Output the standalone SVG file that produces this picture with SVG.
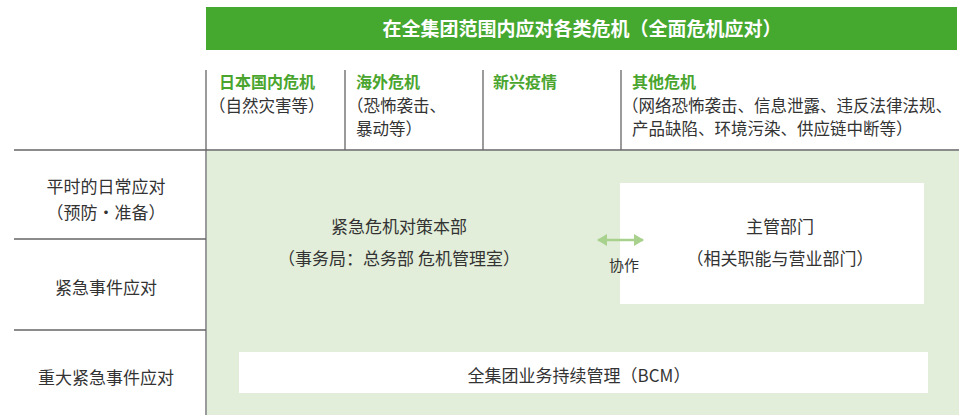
<svg xmlns="http://www.w3.org/2000/svg" width="959" height="415" viewBox="0 0 959 415">
<style>
text{font-family:"Noto Sans CJK SC","Noto Sans",sans-serif;font-size:17px;fill:#333}
.hd{fill:#fff;font-weight:bold;font-size:19px}
.ch{fill:#4aa52e;font-weight:bold;font-size:16px}
.ct{font-size:16.5px}
.ln{stroke:#666;stroke-width:1.3;fill:none}
.m{text-anchor:middle}
</style>
<defs>
<marker id="ah" viewBox="0 0 10 12" refX="9" refY="6" markerWidth="4" markerHeight="4.8" orient="auto-start-reverse" markerUnits="strokeWidth">
<path d="M0,0L10,6L0,12z" fill="#a9d18e"/>
</marker>
</defs>
<rect width="959" height="415" fill="#fff"/>
<g id="header">
<rect x="206" y="7" width="751" height="43" fill="#45a82f"/>
<text class="hd m" x="582" y="36">在全集团范围内应对各类危机（全面危机应对）</text>
</g>
<g id="zone">
<rect x="207" y="151" width="752" height="264" fill="#e2eed9"/>
</g>
<g id="grid">
<path class="ln" d="M206,70V415M345,70V150M483,70V150M621,70V150M14,150H959M14,239H206M14,330H206"/>
</g>
<g id="col1">
<text class="ch" x="219" y="88">日本国内危机</text>
<text class="ct" x="209" y="112">（自然灾害等）</text>
</g>
<g id="col2">
<text class="ch" x="356" y="88">海外危机</text>
<text class="ct" x="347" y="112">（恐怖袭击、</text>
<text class="ct" x="356" y="135">暴动等）</text>
</g>
<g id="col3">
<text class="ch" x="493" y="88">新兴疫情</text>
</g>
<g id="col4">
<text class="ch" x="632" y="88">其他危机</text>
<text class="ct" x="622" y="112">（网络恐怖袭击、信息泄露、违反法律法规、</text>
<text class="ct" x="632" y="135">产品缺陷、环境污染、供应链中断等）</text>
</g>
<g id="row1">
<text class="m" x="106" y="192.5">平时的日常应对</text>
<text class="m" x="106" y="218.5">（预防・准备）</text>
</g>
<g id="row2">
<text class="m" x="106" y="293.5">紧急事件应对</text>
</g>
<g id="row3">
<text class="m" x="106" y="383.5">重大紧急事件应对</text>
</g>
<g id="hq">
<text class="m" x="399" y="232.5">紧急危机对策本部</text>
<text class="m" x="399" y="264.5">（事务局：总务部 危机管理室）</text>
</g>
<g id="dept">
<rect x="620" y="183" width="304" height="121" fill="#fff"/>
<text class="m" x="780" y="232.5">主管部门</text>
<text class="m" x="780" y="264.5">（相关职能与营业部门）</text>
</g>
<g id="bcm">
<rect x="239" y="352" width="689" height="41" fill="#fff"/>
<text class="m" x="579" y="381.5">全集团业务持续管理（BCM）</text>
</g>
<g id="connectors">
<line x1="598" y1="240" x2="643" y2="240" stroke="#a9d18e" stroke-width="2.5" marker-start="url(#ah)" marker-end="url(#ah)"/>
<text class="m" x="624" y="271" style="font-size:15px">协作</text>
</g>
</svg>
